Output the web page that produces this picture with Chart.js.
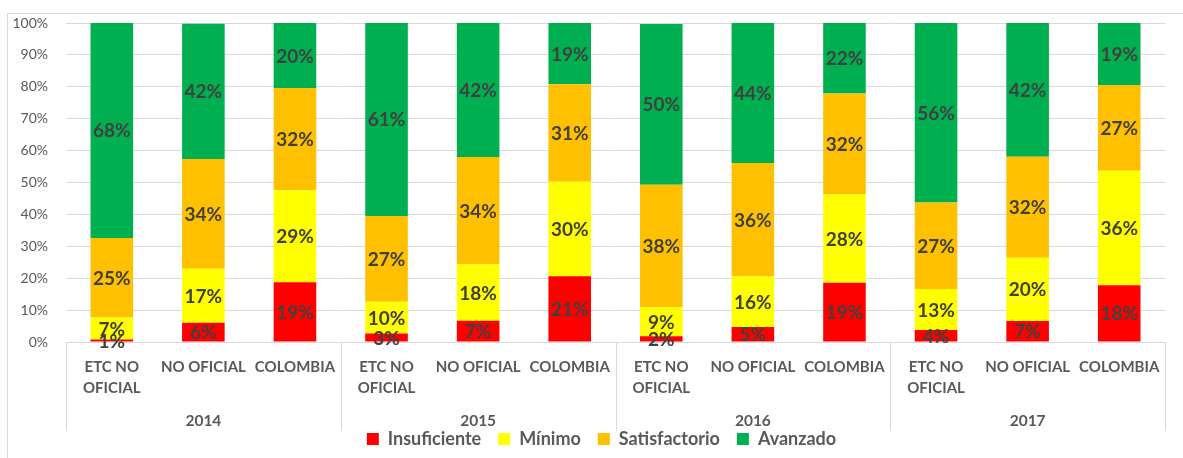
<!DOCTYPE html>
<html>
<head>
<meta charset="utf-8">
<script src="https://cdn.jsdelivr.net/npm/chart.js@4"></script>
<style>
  body { margin: 0; background: #fff; }
  #wrap { position: relative; width: 1183px; height: 458px; }
  #frame { position: absolute; left: 7px; top: 13px; right: 0; bottom: 0;
           border-left: 1px solid #d9d9d9; border-top: 1px solid #d9d9d9; }
  canvas { position: absolute; left: 0; top: 0; }
</style>
</head>
<body>
<div id="wrap">
  <div id="frame"></div>
  <canvas id="chart" width="1183" height="458"></canvas>
</div>
<script>
const years = ["2014", "2015", "2016", "2017"];
const groups = [["ETC NO", "OFICIAL"], "NO OFICIAL", "COLOMBIA"];
const labels = years.flatMap(() => groups);

// porcentajes por nivel (orden: 2014 ETC, NO OF, COL, 2015 ..., 2017 ...)
const insuficiente = [0.8, 6.0, 18.7, 2.7, 6.7, 20.6, 1.8, 4.7, 18.6, 3.8, 6.6, 17.8];
const minimo = [6.9, 17.0, 28.9, 9.9, 17.7, 29.6, 9.1, 15.8, 27.6, 12.8, 19.8, 35.9];
const satisfactorio = [24.9, 34.4, 32.0, 26.9, 33.6, 30.6, 38.4, 35.6, 31.7, 27.1, 31.7, 26.9];
const avanzado = [67.6, 42.4, 20.4, 60.6, 42.0, 19.2, 50.4, 43.9, 22.2, 56.3, 42.0, 19.4];

const yTicks = [0, 10, 20, 30, 40, 50, 60, 70, 80, 90, 100];

const font = "Lato";
const textColor = "#595959";
const gridColor = "#d9d9d9";

// etiquetas de valor dentro de cada segmento
const valueLabels = {
  id: "valueLabels",
  afterDatasetsDraw(chart) {
    const ctx = chart.ctx;
    ctx.save();
    ctx.font = `bold 19px ${font}`;
    ctx.fillStyle = "#404040";
    ctx.textAlign = "center";
    ctx.textBaseline = "middle";
    chart.data.datasets.forEach((ds, i) => {
      const meta = chart.getDatasetMeta(i);
      meta.data.forEach((bar, j) => {
        const y = (bar.y + bar.base) / 2;
        ctx.fillText(Math.round(ds.data[j]) + "%", bar.x, y + 1);
      });
    });
    ctx.restore();
  },
};

// separadores y años bajo el eje
const yearAxis = {
  id: "yearAxis",
  afterLayout(chart) {
    // la leyenda va centrada bajo el área del gráfico, no bajo el lienzo
    chart.legend.left += 15;
    chart.legend.right += 15;
  },
  afterDraw(chart) {
    const ctx = chart.ctx;
    const x = chart.scales.x;
    const top = chart.chartArea.bottom;
    const half = (x.getPixelForValue(1) - x.getPixelForValue(0)) / 2;
    ctx.save();
    ctx.strokeStyle = gridColor;
    ctx.lineWidth = 1;
    for (let g = 0; g <= years.length; g++) {
      const idx = g * 3;
      const px = Math.round(idx < labels.length ? x.getPixelForValue(idx) - half : x.getPixelForValue(labels.length - 1) + half) + 0.5;
      ctx.beginPath();
      ctx.moveTo(px, top);
      ctx.lineTo(px, 431);
      ctx.stroke();
    }
    ctx.font = `bold 15.5px ${font}`;
    ctx.fillStyle = textColor;
    ctx.textAlign = "center";
    ctx.textBaseline = "middle";
    years.forEach((yr, g) => {
      ctx.fillText(yr, x.getPixelForValue(g * 3 + 1), 421);
    });
    ctx.restore();
  },
};

const mk = (label, data, color) => ({
  label,
  data,
  backgroundColor: color,
  borderWidth: 0,
  barPercentage: 0.465,
  categoryPercentage: 1,
});

new Chart(document.getElementById("chart"), {
  type: "bar",
  data: {
    labels: labels,
    datasets: [
      mk("Insuficiente", insuficiente, "#ff0000"),
      mk("Mínimo", minimo, "#ffff00"),
      mk("Satisfactorio", satisfactorio, "#ffc000"),
      mk("Avanzado", avanzado, "#00b050"),
    ],
  },
  options: {
    responsive: false,
    animation: false,
    layout: { padding: { left: 8, right: 18, top: 23, bottom: 0 } },
    plugins: {
      tooltip: { enabled: false },
      legend: {
        position: "bottom",
        labels: {
          boxWidth: 12,
          boxHeight: 12,
          padding: 17,
          color: textColor,
          font: { family: font, size: 18, weight: "bold" },
        },
      },
    },
    scales: {
      x: {
        stacked: true,
        grid: { display: false, drawTicks: false },
        border: { display: true, color: gridColor },
        ticks: {
          color: textColor,
          padding: 15,
          maxRotation: 0,
          autoSkip: false,
          font: { family: font, size: 15, weight: "bold", lineHeight: 1.4 },
        },
        afterFit: (s) => { s.height = 71; },
      },
      y: {
        stacked: true,
        min: 0,
        max: 100,
        afterBuildTicks: (s) => { s.ticks = yTicks.map((v) => ({ value: v })); },
        grid: { color: gridColor, drawTicks: true, tickLength: 16, tickColor: "rgba(0,0,0,0)" },
        border: { display: false },
        ticks: {
          color: textColor,
          padding: 2,
          font: { family: font, size: 14 },
          callback: (v) => v + "%",
        },
        afterFit: (s) => { s.width = 58; },
      },
    },
  },
  plugins: [valueLabels, yearAxis],
});
</script>
</body>
</html>
